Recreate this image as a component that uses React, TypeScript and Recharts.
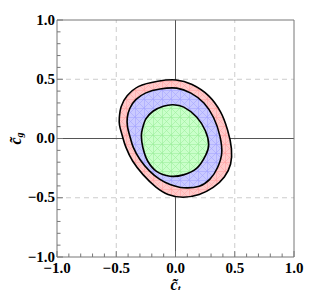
import React from 'react';
import { ScatterChart, Scatter, XAxis, YAxis, ReferenceLine } from 'recharts';

// contour points (c_t, c_g)
const outerContour = [
  { x: -0.474, y: 0.176 }, { x: -0.458, y: 0.27 }, { x: -0.408, y: 0.36 }, { x: -0.31, y: 0.44 },
  { x: -0.15, y: 0.483 }, { x: 0.004, y: 0.494 }, { x: 0.14, y: 0.455 }, { x: 0.28, y: 0.36 },
  { x: 0.38, y: 0.225 }, { x: 0.44, y: 0.07 }, { x: 0.472, y: -0.085 }, { x: 0.465, y: -0.215 },
  { x: 0.412, y: -0.325 }, { x: 0.318, y: -0.413 }, { x: 0.2, y: -0.472 }, { x: 0.063, y: -0.496 },
  { x: -0.063, y: -0.472 }, { x: -0.165, y: -0.41 }, { x: -0.274, y: -0.305 }, { x: -0.362, y: -0.19 },
  { x: -0.418, y: -0.075 }, { x: -0.452, y: 0.034 }, { x: -0.472, y: 0.11 },
];
const middleContour = [
  { x: -0.407, y: 0.174 }, { x: -0.385, y: 0.255 }, { x: -0.335, y: 0.328 }, { x: -0.25, y: 0.385 },
  { x: -0.131, y: 0.418 }, { x: 0.01, y: 0.425 }, { x: 0.13, y: 0.383 }, { x: 0.24, y: 0.3 },
  { x: 0.322, y: 0.175 }, { x: 0.375, y: 0.02 }, { x: 0.39, y: -0.125 }, { x: 0.355, y: -0.245 },
  { x: 0.291, y: -0.343 }, { x: 0.2, y: -0.403 }, { x: 0.066, y: -0.416 }, { x: -0.046, y: -0.388 },
  { x: -0.135, y: -0.343 }, { x: -0.22, y: -0.273 }, { x: -0.3, y: -0.177 }, { x: -0.356, y: -0.075 },
  { x: -0.388, y: 0.03 }, { x: -0.405, y: 0.1 },
];
const innerContour = [
  { x: -0.28, y: 0.078 }, { x: -0.25, y: 0.165 }, { x: -0.19, y: 0.23 }, { x: -0.103, y: 0.272 },
  { x: -0.02, y: 0.285 }, { x: 0.07, y: 0.265 }, { x: 0.18, y: 0.18 }, { x: 0.252, y: 0.065 },
  { x: 0.28, y: -0.05 }, { x: 0.255, y: -0.14 }, { x: 0.18, y: -0.25 }, { x: 0.066, y: -0.307 },
  { x: -0.046, y: -0.318 }, { x: -0.16, y: -0.277 }, { x: -0.235, y: -0.19 }, { x: -0.275, y: -0.078 },
  { x: -0.288, y: 0.02 },
];

const ticks = [-1, -0.9, -0.8, -0.7, -0.6, -0.5, -0.4, -0.3, -0.2, -0.1, 0, 0.1, 0.2, 0.3, 0.4, 0.5, 0.6, 0.7, 0.8, 0.9, 1];
const majorTicks = [-1, -0.5, 0, 0.5, 1];

const FRAME = '#777';
const tickFont = { fontFamily: '"Liberation Serif", serif', fontWeight: 700, fontSize: 15, fill: '#000' };

const isMajor = (v: number) => majorTicks.some(m => Math.abs(m - v) < 1e-6);
const fmt = (v: number) => v.toFixed(1).replace('-', '\u2212');

function BottomTick({ x, y, payload }: any) {
  const major = isMajor(payload.value);
  return (
    <g>
      <line x1={x} x2={x} y1={y} y2={y - (major ? 6 : 3.5)} stroke={FRAME} />
      {major && <text x={x} y={y + 16} textAnchor="middle" {...tickFont}>{fmt(payload.value)}</text>}
    </g>
  );
}
function TopTick({ x, y, payload }: any) {
  const major = isMajor(payload.value);
  return <line x1={x} x2={x} y1={y} y2={y + (major ? 6 : 3.5)} stroke={FRAME} />;
}
function LeftTick({ x, y, payload }: any) {
  const major = isMajor(payload.value);
  return (
    <g>
      <line x1={x} x2={x + (major ? 6 : 3.5)} y1={y} y2={y} stroke={FRAME} />
      {major && <text x={x - 2} y={y + 4.5} textAnchor="end" {...tickFont}>{fmt(payload.value)}</text>}
    </g>
  );
}
function RightTick({ x, y, payload }: any) {
  const major = isMajor(payload.value);
  return <line x1={x} x2={x - (major ? 6 : 3.5)} y1={y} y2={y} stroke={FRAME} />;
}

const labelFont = { fontFamily: '"Liberation Serif", serif', fontStyle: 'italic', fontWeight: 700, fontSize: 16, fill: '#000' };

function XLabel({ viewBox }: any) {
  const { x, y, width } = viewBox;
  return (
    <text x={x + width / 2} y={y + 33} textAnchor="middle" {...labelFont}>
      {'c\u0303'}<tspan fontSize={10} dy={2}>t</tspan>
    </text>
  );
}
function YLabel({ viewBox }: any) {
  const { x, y, width, height } = viewBox;
  const cx = x + width - 36;
  const cy = y + height / 2;
  return (
    <text x={cx} y={cy} textAnchor="middle" transform={`rotate(-90 ${cx} ${cy})`} {...labelFont}>
      {'c\u0303'}<tspan fontSize={10} dy={2}>g</tspan>
    </text>
  );
}

function Mesh({ id, base, line }: { id: string; base: string; line: string }) {
  return (
    <pattern id={id} width={9} height={9} patternUnits="userSpaceOnUse">
      <rect width={9} height={9} fill={base} />
      <path d="M0 0.5H9M0.5 0V9M0 0L9 9M9 0L0 9" stroke={line} strokeWidth={0.6} fill="none" />
    </pattern>
  );
}

// closed catmull-rom through the contour points recharts hands us
function smoothClosed(pts: { x: number; y: number }[]) {
  const n = pts.length;
  let d = `M${pts[0].x},${pts[0].y}`;
  for (let i = 0; i < n; i++) {
    const p0 = pts[(i - 1 + n) % n], p1 = pts[i], p2 = pts[(i + 1) % n], p3 = pts[(i + 2) % n];
    const c1x = p1.x + (p2.x - p0.x) / 6, c1y = p1.y + (p2.y - p0.y) / 6;
    const c2x = p2.x - (p3.x - p1.x) / 6, c2y = p2.y - (p3.y - p1.y) / 6;
    d += `C${c1x},${c1y} ${c2x},${c2y} ${p2.x},${p2.y}`;
  }
  return d + 'Z';
}

const contourLine = (fill: string) => (props: any) => (
  <path d={smoothClosed(props.points)} fill={fill} stroke="#000" strokeWidth={1.6} strokeLinejoin="round" />
);

const hide = () => <g />;

export default function App() {
  return (
    <div style={{ margin: -8 }}>
      <ScatterChart width={315} height={298} margin={{ top: 0, right: 0, bottom: 0, left: 0 }}>
        <defs>
          <Mesh id="meshRed" base="#ffcaca" line="#ffa4a4" />
          <Mesh id="meshBlue" base="#cacaff" line="#a4a4ff" />
          <Mesh id="meshGreen" base="#caffca" line="#9cef9c" />
        </defs>
        <XAxis type="number" dataKey="x" domain={[-1, 1]} ticks={ticks} interval={0} height={41}
          tickSize={0} tickMargin={0} tickLine={false} axisLine={{ stroke: FRAME }} tick={<BottomTick />}
          label={{ content: <XLabel /> }} allowDataOverflow />
        <XAxis xAxisId="top" orientation="top" type="number" dataKey="x" domain={[-1, 1]} ticks={ticks} interval={0}
          height={20} tickSize={0} tickMargin={0} tickLine={false} axisLine={{ stroke: FRAME }} tick={<TopTick />} />
        <YAxis type="number" dataKey="y" domain={[-1, 1]} ticks={ticks} interval={0} width={57}
          tickSize={0} tickMargin={0} tickLine={false} axisLine={{ stroke: FRAME }} tick={<LeftTick />}
          label={{ content: <YLabel /> }} allowDataOverflow />
        <YAxis yAxisId="right" orientation="right" type="number" dataKey="y" domain={[-1, 1]} ticks={ticks} interval={0}
          width={21} tickSize={0} tickMargin={0} tickLine={false} axisLine={{ stroke: FRAME }} tick={<RightTick />} />
        <ReferenceLine x={-0.5} stroke="#ccc" strokeDasharray="5 4" />
        <ReferenceLine x={0.5} stroke="#ccc" strokeDasharray="5 4" />
        <ReferenceLine y={-0.5} stroke="#ccc" strokeDasharray="5 4" />
        <ReferenceLine y={0.5} stroke="#ccc" strokeDasharray="5 4" />
        <Scatter data={outerContour} line={contourLine('url(#meshRed)')} lineType="joint"
          shape={hide} isAnimationActive={false} />
        <Scatter data={middleContour} line={contourLine('url(#meshBlue)')} lineType="joint"
          shape={hide} isAnimationActive={false} />
        <Scatter data={innerContour} line={contourLine('url(#meshGreen)')} lineType="joint"
          shape={hide} isAnimationActive={false} />
        <ReferenceLine x={0} stroke="#555" />
        <ReferenceLine y={0} stroke="#555" />
      </ScatterChart>
    </div>
  );
}
